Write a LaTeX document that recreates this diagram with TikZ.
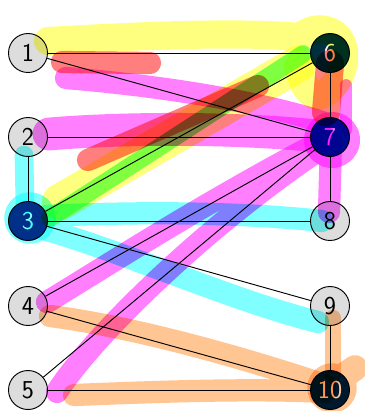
\documentclass[tikz,border=0pt]{standalone}
\usepackage{fontspec}
\usepackage{tikz}
\definecolor{vgray}   {HTML}{DDDDDD}
\definecolor{hubblue} {HTML}{003088}
\definecolor{hubnavy} {HTML}{00138F}
\definecolor{hubteal} {HTML}{00303F}
\definecolor{hubnight}{HTML}{002050}
\definecolor{hlyellow}{HTML}{FFFF00}
\definecolor{hlgreen} {HTML}{00FF00}
\definecolor{hlred}   {HTML}{FF0000}
\definecolor{hlmag}   {HTML}{FF00FF}
\definecolor{hlcyan}  {HTML}{00FFFF}
\definecolor{hlorange}{HTML}{FF8C28}
\tikzset{
  vtx/.style={circle,draw=black,line width=0.8pt,fill=vgray,minimum size=1.17cm,
              inner sep=0pt,font=\fontsize{22}{24}\selectfont\sffamily},
  hub/.style={vtx,text=white},
  link/.style={line width=0.8pt},
  hl/.style={line cap=round,line join=round,draw opacity=0.5,blend mode=multiply,line width=19pt}
}
\begin{document}
\begin{tikzpicture}[x=0.03cm,y=-0.03cm]
  \useasboundingbox (0,0) rectangle (365,411);
  \node[vtx] (n1) at (28,53) {1};
  \node[vtx] (n2) at (28,137) {2};
  \node[hub,fill=hubblue] (n3) at (28,221) {3};
  \node[vtx] (n4) at (28,306) {4};
  \node[vtx] (n5) at (28,390) {5};
  \node[hub,fill=hubteal] (n6) at (330,53) {6};
  \node[hub,fill=hubnavy] (n7) at (330,137) {7};
  \node[vtx] (n8) at (330,221) {8};
  \node[vtx] (n9) at (330,306) {9};
  \node[hub,fill=hubnight] (n10) at (330,390) {10};

  \draw[link] (n1) -- (n6);
  \draw[link] (n1) -- (n7);
  \draw[link] (n2) -- (n7);
  \draw[link] (n2) -- (n3);
  \draw[link] (n3) -- (n6);
  \draw[link] (n3) -- (n8);
  \draw[link] (n3) -- (n9);
  \draw[link] (n4) -- (n7);
  \draw[link] (n4) -- (n10);
  \draw[link] (n5) -- (n7);
  \draw[link] (n5) -- (n10);
  \draw[link] (n6) -- (n7);
  \draw[link] (n7) -- (n8);
  \draw[link] (n9) -- (n10);

  % marker strokes
  \draw[hl,hlyellow,line width=24pt] (48,41) .. controls (120,37) and (230,31) .. (300,37)
     .. controls (318,22) and (342,30) .. (344,52) .. controls (346,75) and (330,94) .. (318,96)
     .. controls (306,94) and (302,80) .. (298,66);
  \draw[hl,hlyellow,line width=31pt] (298,64) -- (60,202);
  \draw[hl,hlgreen,line width=15pt] (50,218) -- (303,54);
  \draw[hl,hlred] (62,62) -- (150,63) (88,160) -- (258,86);
  \draw[hl,hlred,line width=24pt] (330,64) -- (326,112);
  \draw[hl,hlmag] (66,78) .. controls (150,85) and (250,99) .. (322,122);
  \draw[hl,hlmag,line width=28pt] (49,134) .. controls (120,128) and (230,127) .. (318,136);
  \draw[hl,hlmag] (47,302) .. controls (100,270) and (200,205) .. (320,142)
     (57,392) .. controls (90,340) and (200,230) .. (322,148)
     (331,142) -- (329,212);
  \draw[hl,hlmag,line width=10pt] (346,130) -- (346,85);
  \draw[hl,hlmag,line width=24pt] (332,140) circle[radius=14];
  \draw[hl,hlcyan,line width=16pt] (24,155) -- (25,205);
  \draw[hl,hlcyan,line width=22pt] (30,218) circle[radius=13];
  \draw[hl,hlcyan] (45,216) .. controls (150,211) and (250,213) .. (322,221)
     (40,228) .. controls (120,250) and (230,300) .. (318,322);
  \draw[hl,hlorange] (50,316) .. controls (120,325) and (220,350) .. (325,385)
     (74,395) .. controls (150,392) and (250,388) .. (325,392);
  \draw[hl,hlorange,line width=14pt] (333,318) -- (333,375);
  \draw[hl,hlorange,line width=22pt] (332,388) circle[radius=12] (335,382) -- (355,368);
\end{tikzpicture}
\end{document}
